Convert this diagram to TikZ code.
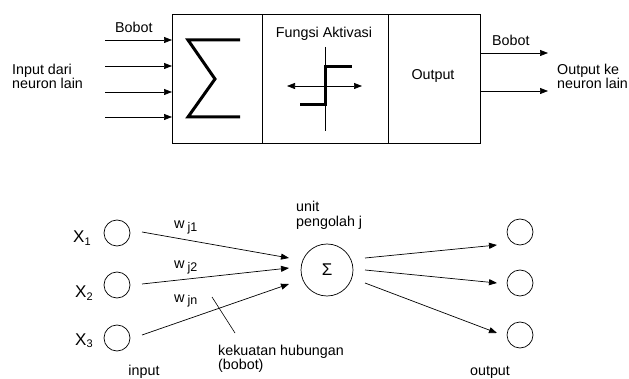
\documentclass[tikz,border=0pt]{standalone}
\usepackage{fontspec}
\setmainfont{Liberation Sans}
\usetikzlibrary{arrows.meta}
\begin{document}
\begin{tikzpicture}[x=1pt,y=-1pt,
  lbl/.style={font=\fontsize{14.3}{14}\selectfont, inner sep=0pt},
  sect/.style={draw, line width=0.8pt, inner sep=0pt, outer sep=0pt},
  arr/.style={line width=0.7pt, -{Triangle[length=8pt,width=6pt]}},
  thickln/.style={line width=3pt},
  neuron/.style={draw, circle, line width=0.7pt, minimum size=26pt, inner sep=0pt},
  xlbl/.style={font=\fontsize{17}{18}\selectfont, inner sep=0pt, anchor=base west},
  wlbl/.style={font=\fontsize{14.5}{14}\selectfont, inner sep=0pt, anchor=base west}]
\useasboundingbox (0,0) rectangle (629,379);

% ---------- top block diagram ----------
\node[sect, minimum width=90pt, minimum height=129pt] (sumbox) at (217,78.5) {};
\node[sect, minimum width=126pt, minimum height=129pt] (actbox) at (325,78.5) {};
\node[sect, minimum width=92pt, minimum height=129pt] (outbox) at (434,78.5) {};

\coordinate (in1) at (105,40);
\coordinate (in2) at (105,66);
\coordinate (in3) at (105,92);
\coordinate (in4) at (105,117);
\foreach \i in {1,...,4} \draw[arr] (in\i) -- (in\i -| sumbox.west);

\node[lbl, anchor=base west] (bobot1) at (115,33) {Bobot};
\node[lbl, anchor=base west] (inlbl1) at (12,75) {Input dari};
\node[lbl, anchor=base west] (inlbl2) at (12,89) {neuron lain};

% sigma
\draw[thickln] (240,40) -- (188,40) -- (215,79) -- (188,117) -- (240,117);

\node[lbl, anchor=base] (fa) at (324,38) {Fungsi Aktivasi};
% activation plot
\coordinate (vtop) at (325,47);
\coordinate (vbot) at (325,131);
\draw[line width=0.7pt] (vtop) -- (vbot);
\coordinate (hl) at (287,86);
\coordinate (hr) at (362,86);
\draw[line width=0.7pt, {Triangle[length=8pt,width=6pt]}-{Triangle[length=8pt,width=6pt]}] (hl) -- (hr);
\draw[thickln] (300,105) -- (325,105) -- (325,67) -- (352,67);

\node[lbl, anchor=base] (outtxt) at (433,80) {Output};

\coordinate (o1) at (548,53);
\coordinate (o2) at (548,91);
\draw[arr] (o1 -| outbox.east) -- (o1);
\draw[arr] (o2 -| outbox.east) -- (o2);
\node[lbl, anchor=base west] (bobot2) at (492,46) {Bobot};
\node[lbl, anchor=base west] (outlbl1) at (557,75) {Output ke};
\node[lbl, anchor=base west] (outlbl2) at (557,89) {neuron lain};

% ---------- bottom network ----------
\node[neuron] (x1) at (117,233) {};
\node[neuron] (x2) at (117,285) {};
\node[neuron] (x3) at (117,338) {};
\node[xlbl] (lx1) at (73,243) {X\raisebox{-0.3ex}{\fontsize{11}{12}\selectfont 1}};
\node[xlbl] (lx2) at (75,298) {X\raisebox{-0.3ex}{\fontsize{11}{12}\selectfont 2}};
\node[xlbl] (lx3) at (75,345) {X\raisebox{-0.3ex}{\fontsize{11}{12}\selectfont 3}};

\node[draw, circle, line width=0.7pt, minimum size=52pt, inner sep=0pt, font=\fontsize{17}{18}\selectfont] (sumc) at (327,270) {Σ};

\coordinate (a1s) at (142,232); \coordinate (a1e) at (289,258);
\coordinate (a2s) at (142,284); \coordinate (a2e) at (289,268);
\coordinate (a3s) at (142,335); \coordinate (a3e) at (289,284);
\draw[arr] (a1s) -- (a1e);
\draw[arr] (a2s) -- (a2e);
\draw[arr] (a3s) -- (a3e);

\node[wlbl] (w1) at (174,229) {w\hspace{3pt}\raisebox{-0.35ex}{\fontsize{12.5}{12}\selectfont j1}};
\node[wlbl] (w2) at (174,269) {w\hspace{3pt}\raisebox{-0.35ex}{\fontsize{12.5}{12}\selectfont j2}};
\node[wlbl] (w3) at (174,302) {w\hspace{3pt}\raisebox{-0.35ex}{\fontsize{12.5}{12}\selectfont jn}};

\coordinate (ptA) at (212,297);
\coordinate (ptB) at (235,333);
\draw[line width=0.6pt] (ptA) -- (ptB);
\node[lbl, anchor=base west] (kek1) at (218,355) {kekuatan hubungan};
\node[lbl, anchor=base west] (kek2) at (218,369) {(bobot)};

\node[lbl, anchor=base west] (unit1) at (296,212) {unit};
\node[lbl, anchor=base west] (unit2) at (296,227) {pengolah j};

\node[neuron] (y1) at (520,232) {};
\node[neuron] (y2) at (520,283) {};
\node[neuron] (y3) at (520,335) {};
\coordinate (b1s) at (365,258); \coordinate (b1e) at (497,245);
\coordinate (b2s) at (365,270); \coordinate (b2e) at (497,283);
\coordinate (b3s) at (365,283); \coordinate (b3e) at (497,333);
\draw[arr] (b1s) -- (b1e);
\draw[arr] (b2s) -- (b2e);
\draw[arr] (b3s) -- (b3e);

\node[lbl, anchor=base] (inp) at (144,375) {input};
\node[lbl, anchor=base] (outp) at (490,375) {output};
\end{tikzpicture}
\end{document}
